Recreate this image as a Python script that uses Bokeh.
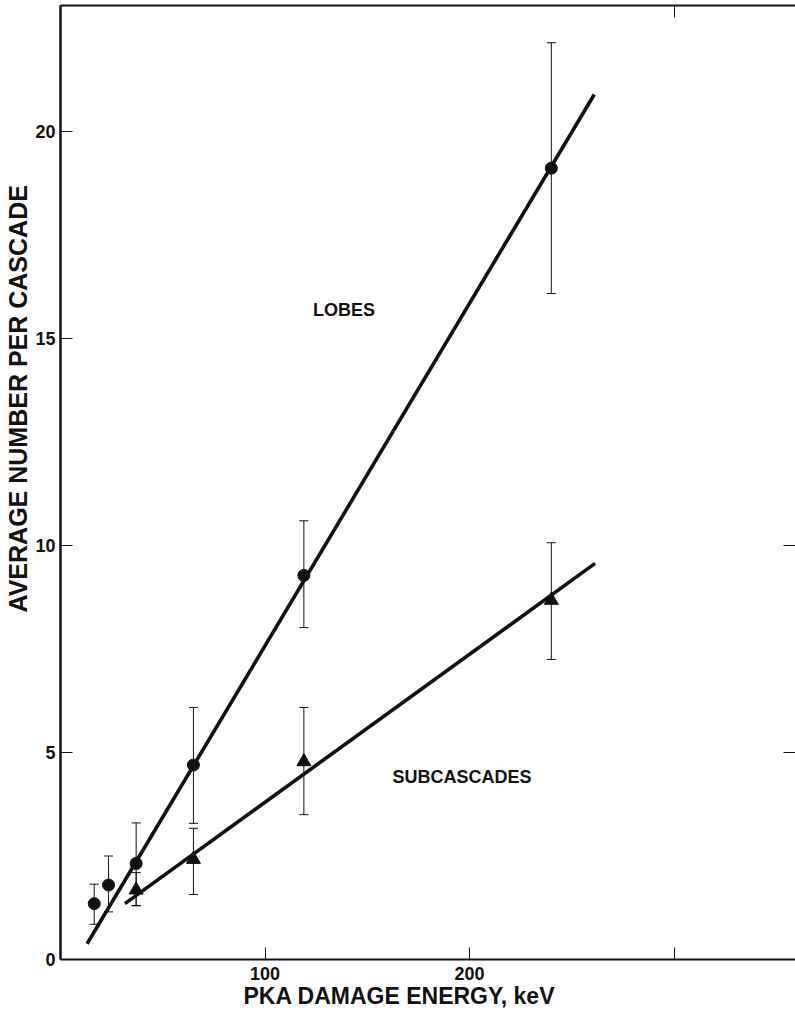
from bokeh.plotting import figure
from bokeh.models import (Range1d, LinearAxis, FixedTicker, ColumnDataSource,
                          Whisker, TeeHead, Title)
from bokeh.core.properties import value
from bokeh.embed import file_html
from bokeh.resources import INLINE

# --- data -------------------------------------------------------------
# lobes per cascade
lobe_energy = [16.5, 23.5, 37.0, 65.0, 119.0, 240.0]
lobe_mean = [1.35, 1.80, 2.32, 4.70, 9.28, 19.12]
lobe_upper = [1.82, 2.50, 3.30, 6.09, 10.60, 22.15]
lobe_lower = [0.85, 1.15, 1.30, 3.29, 8.02, 16.09]

# subcascades per cascade
sub_energy = [37.0, 65.0, 119.0, 240.0]
sub_mean = [1.68, 2.42, 4.78, 8.68]
sub_upper = [2.10, 3.17, 6.09, 10.07]
sub_lower = [1.30, 1.57, 3.50, 7.25]

# straight-line fits, end points
lobe_fit_x = [13.0, 261.0]
lobe_fit_y = [0.38, 20.90]
sub_fit_x = [31.5, 261.4]
sub_fit_y = [1.35, 9.57]

x_ticks = [100, 200]
x_unlabelled_ticks = [300]
y_ticks = [0, 5, 10, 15, 20]
y_right_ticks = [5, 10]

FONT = "Liberation Sans"
INK = "#111111"

p = figure(width=795, height=1017,
           x_range=Range1d(0, 359.4), y_range=Range1d(0, 23.05),
           output_backend="svg", toolbar_location=None,
           x_axis_location=None, y_axis_location=None,
           min_border_left=60, min_border_right=0,
           min_border_top=5, min_border_bottom=58)
p.outline_line_color = None
p.xgrid.visible = False
p.ygrid.visible = False
p.background_fill_color = "white"
p.border_fill_color = "white"


def style_axis(ax, line_width):
    ax.axis_line_color = INK
    ax.axis_line_width = line_width
    for kind in ("major", "minor"):
        setattr(ax, kind + "_tick_line_color", INK)
        setattr(ax, kind + "_tick_line_width", 1)
        setattr(ax, kind + "_tick_in", 12)
        setattr(ax, kind + "_tick_out", 0)
    ax.major_label_text_font = FONT
    ax.major_label_text_font_style = "bold"
    ax.major_label_text_font_size = "18px"
    ax.major_label_text_color = INK


left = LinearAxis(ticker=FixedTicker(ticks=y_ticks))
style_axis(left, 2.5)
left.major_label_standoff = 5
p.add_layout(left, "left")

bottom = LinearAxis(ticker=FixedTicker(ticks=x_ticks, minor_ticks=x_unlabelled_ticks))
style_axis(bottom, 2)
bottom.major_label_standoff = 7
p.add_layout(bottom, "below")

# top and right edges carry tick marks only
top = LinearAxis(ticker=FixedTicker(ticks=[], minor_ticks=x_unlabelled_ticks))
style_axis(top, 2)
p.add_layout(top, "above")

right = LinearAxis(ticker=FixedTicker(ticks=[], minor_ticks=y_right_ticks))
style_axis(right, 0)
right.axis_line_color = None
p.add_layout(right, "right")

# axis titles, outside the tick labels
x_title = Title(text="PKA DAMAGE ENERGY, keV", align="left", offset=183,
                text_font=FONT, text_font_style="bold", text_font_size="23px",
                text_color=INK, standoff=-4)
p.add_layout(x_title, "below")
y_title = Title(text="AVERAGE NUMBER PER CASCADE", align="left", offset=347,
                text_font=FONT, text_font_style="bold", text_font_size="25px",
                text_color=INK, standoff=2)
p.add_layout(y_title, "left")

# fitted lines
p.line(lobe_fit_x, lobe_fit_y, line_color=INK, line_width=3.6)
p.line(sub_fit_x, sub_fit_y, line_color=INK, line_width=3.6)

# error bars
lobe_src = ColumnDataSource(dict(x=lobe_energy, y=lobe_mean,
                                 upper=lobe_upper, lower=lobe_lower))
sub_src = ColumnDataSource(dict(x=sub_energy, y=sub_mean,
                                upper=sub_upper, lower=sub_lower))
for src in (lobe_src, sub_src):
    p.add_layout(Whisker(source=src, base="x", upper="upper", lower="lower",
                         line_color=INK, line_width=1,
                         upper_head=TeeHead(size=9, line_color=INK, line_width=1),
                         lower_head=TeeHead(size=9, line_color=INK, line_width=1)))

# markers
p.scatter("x", "y", source=lobe_src, marker="circle", size=12,
          fill_color=INK, line_color=INK)
p.scatter("x", "y", source=sub_src, marker="triangle", size=14,
          fill_color=INK, line_color=INK)

# series names
p.text(x=[138.6], y=[15.7], text=["LOBES"], text_font=value(FONT),
       text_font_style="bold", text_font_size="18px", text_color=INK,
       text_align="center", text_baseline="middle")
p.text(x=[196.3], y=[4.4], text=["SUBCASCADES"], text_font=value(FONT),
       text_font_style="bold", text_font_size="18px", text_color=INK,
       text_align="center", text_baseline="middle")

open("out.html", "w").write(file_html(p, INLINE))
